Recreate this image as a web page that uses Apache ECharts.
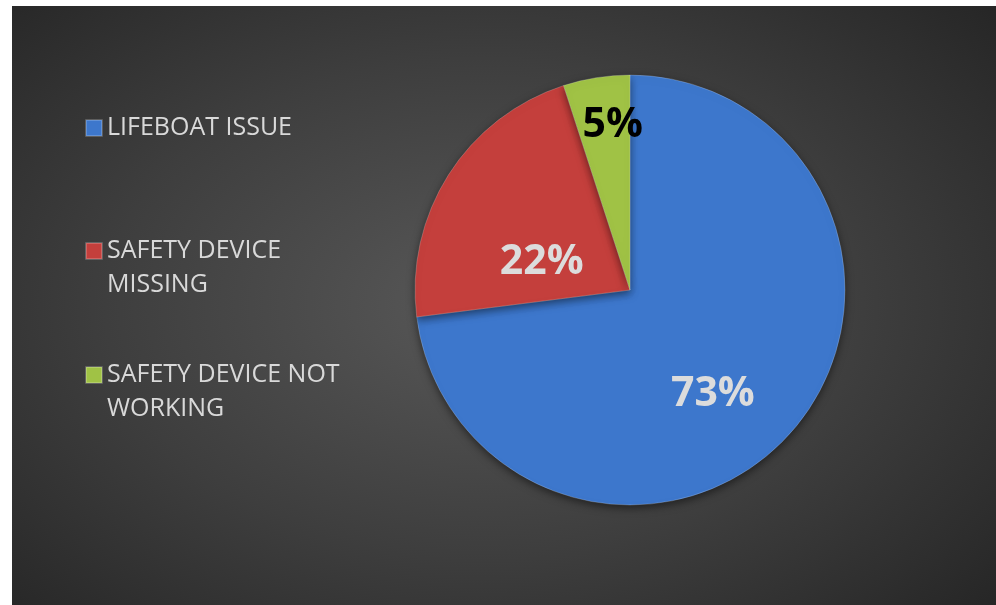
<!DOCTYPE html>
<html>
<head>
<meta charset="utf-8">
<script src="https://cdn.jsdelivr.net/npm/echarts@6/dist/echarts.min.js"></script>
<style>
  html, body { margin: 0; padding: 0; background: #ffffff; }
  #bg { position: absolute; left: 12px; top: 6px; width: 984px; height: 599px;
        background: radial-gradient(ellipse 70% 75% at 48% 50%, #585858 0%, #3e3e3e 55%, #262626 100%); }
  #chart { position: absolute; left: 0; top: 0; width: 996px; height: 605px; }
</style>
</head>
<body>
<div id="bg"></div>
<div id="chart"></div>
<script>
const categories = ['LIFEBOAT ISSUE', 'SAFETY DEVICE MISSING', 'SAFETY DEVICE NOT WORKING'];
const legendLabels = ['LIFEBOAT ISSUE', '\u00a0\nSAFETY DEVICE\nMISSING', '\u00a0\nSAFETY DEVICE NOT\nWORKING'];
const values = [73, 22, 5];
const sliceColors = ['#3d77cc', '#c43f3c', '#a0c245'];
const labelColors = ['#dcdcdc', '#dcdcdc', '#000000'];
const labelOffsets = [[0, 31], [5, 32], [0, -56]];

const chart = echarts.init(document.getElementById('chart'), null, { renderer: 'canvas' });

const legendTops = [111, 200, 324];

const legends = categories.map((name, i) => ({
  data: [name],
  orient: 'vertical',
  left: 85,
  top: legendTops[i],
  padding: 0,
  itemWidth: 16,
  itemHeight: 16,
  icon: 'rect',
  selectedMode: false,
  formatter: () => legendLabels[i],
  textStyle: {
    color: '#d9d9d9',
    fontFamily: 'Open Sans',
    fontSize: 25,
    lineHeight: 34
  }
}));

chart.setOption({
  backgroundColor: 'transparent',
  animation: false,
  legend: legends,
  series: [{
    type: 'pie',
    center: [630, 290],
    radius: 215,
    startAngle: 90,
    clockwise: true,
    data: categories.map((name, i) => ({
      name,
      value: values[i],
      itemStyle: { color: sliceColors[i] },
      label: { color: labelColors[i], offset: labelOffsets[i] }
    })),
    label: {
      show: true,
      position: 'inside',
      formatter: p => p.value + '%',
      fontFamily: 'Open Sans',
      fontWeight: 'bold',
      fontSize: 41
    },
    labelLine: { show: false },
    itemStyle: {
      borderColor: 'rgba(255,255,255,0.2)',
      borderWidth: 1,
      shadowBlur: 8,
      shadowOffsetY: 3,
      shadowColor: 'rgba(0,0,0,0.5)'
    },
    emphasis: { disabled: true }
  }]
});
</script>
</body>
</html>
